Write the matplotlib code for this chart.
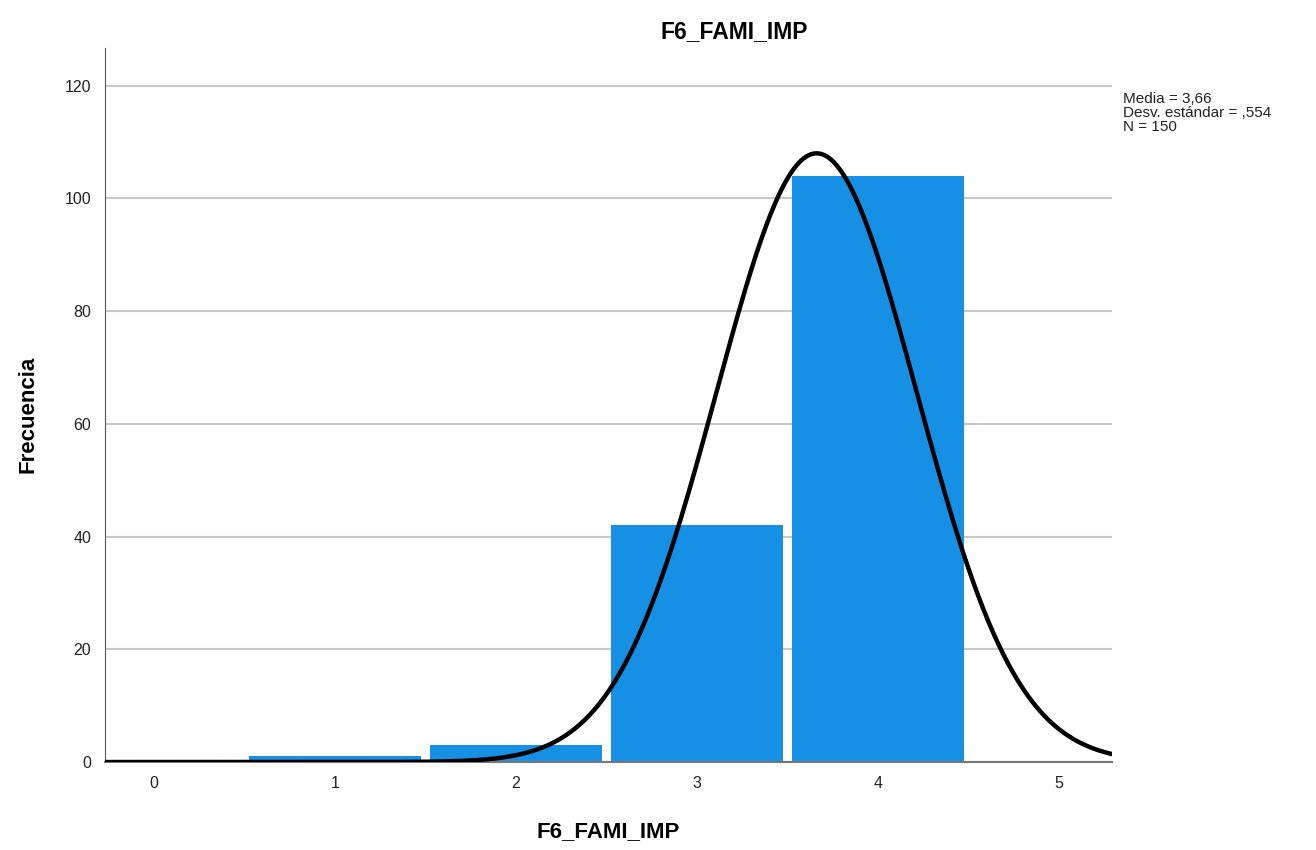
import numpy as np
import matplotlib.pyplot as plt

plt.rcParams['font.family'] = ['Liberation Sans', 'DejaVu Sans']

# histogram data (SPSS output)
categories = [1, 2, 3, 4]
counts = [1, 3, 42, 104]
media = 3.66
desv = 0.554
n_total = 150

fig = plt.figure(figsize=(13.16, 8.5), dpi=100)
ax = fig.add_axes([0.0798, 0.1035, 0.765, 0.84])

ax.bar(categories, counts, width=0.95, color='#1690E5', zorder=2)

# normal curve scaled to the histogram (bin width = 1)
xs = np.linspace(-0.27, 5.29, 400)
ys = n_total / (desv * np.sqrt(2 * np.pi)) * np.exp(-0.5 * ((xs - media) / desv) ** 2)
ax.plot(xs, ys, color='black', lw=3.2, zorder=3)

ax.set_xlim(-0.27, 5.29)
ax.set_ylim(0, 126.7)
ax.set_xticks(range(0, 6))
ax.set_yticks(range(0, 121, 20))
ax.tick_params(length=0, labelsize=11.5, colors='#222222', pad=10)
ax.yaxis.grid(True, color='#c8c8c8', lw=1.5, zorder=0)
ax.set_axisbelow(True)
for s in ['top', 'right']:
    ax.spines[s].set_visible(False)
ax.spines['left'].set_color('#555555')
ax.spines['bottom'].set_color('#777777')
ax.spines['bottom'].set_linewidth(1.5)

fig.text(0.021, 0.512, 'Frecuencia', fontsize=16, fontweight='bold', rotation=90, ha='center', va='center')
fig.text(0.462, 0.022, 'F6_FAMI_IMP', fontsize=16, fontweight='bold', ha='center', va='center')
fig.text(0.558, 0.963, 'F6_FAMI_IMP', fontsize=16.5, fontweight='bold', ha='center', va='center')
fig.text(0.853, 0.892, 'Media = 3,66\nDesv. estándar = ,554\nN = 150',
         fontsize=11, va='top', ha='left', linespacing=1.0, color='#222222')

fig.savefig('out.png', dpi=100)
